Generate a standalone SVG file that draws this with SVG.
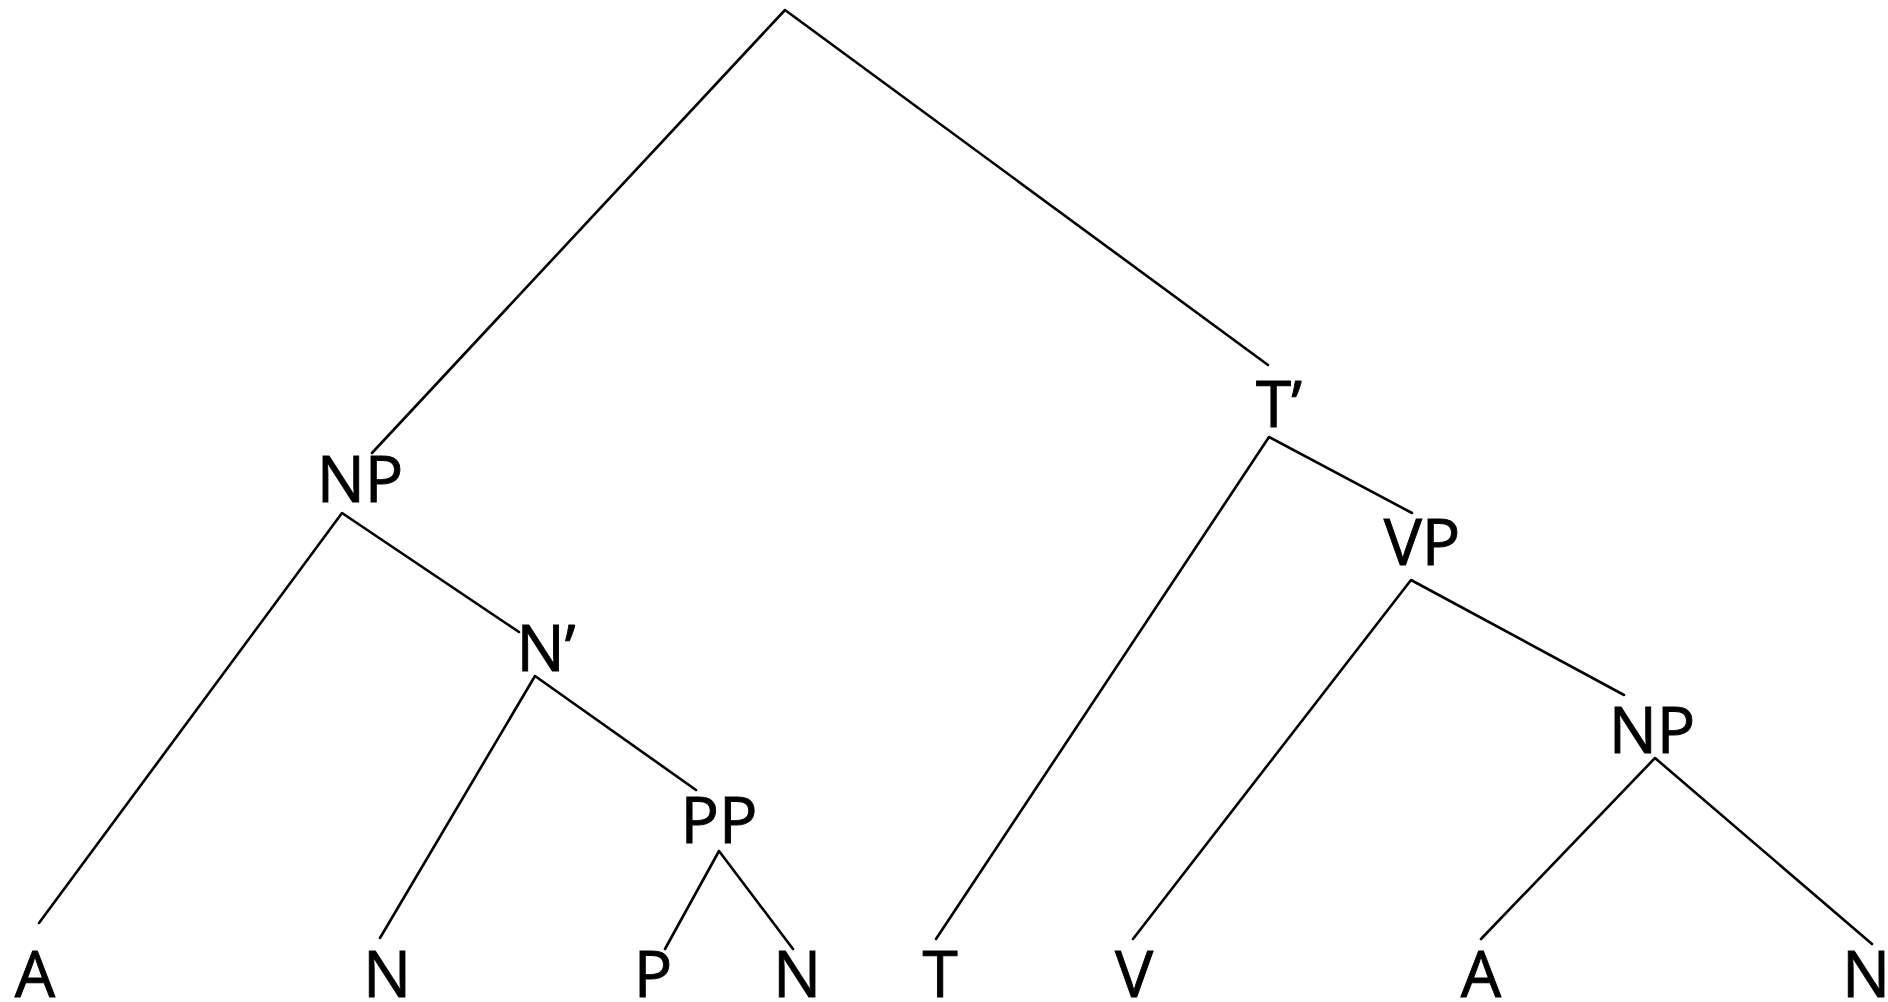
<svg xmlns="http://www.w3.org/2000/svg" width="1888" height="1002" viewBox="0 0 1888 1002">
<style>
.lbl{font-family:"Open Sans","Noto Sans","Liberation Sans",sans-serif;font-size:64px;fill:#000;stroke:#000;stroke-width:0.9;text-anchor:middle}
.edge{stroke:#000;stroke-width:2.6;fill:none;stroke-linecap:round;stroke-linejoin:round}
</style>
<rect width="1888" height="1002" fill="#fff"/>
<g id="connectors">
<polyline class="edge" points="372,453 785,10 1268,365"/>
<polyline class="edge" points="39,923 342,513 519,632"/>
<polyline class="edge" points="380,938 535,676 696,790"/>
<polyline class="edge" points="665,949 719,851 793,949"/>
<polyline class="edge" points="936,939 1269,437 1412,513"/>
<polyline class="edge" points="1133,939 1411,580 1624,695"/>
<polyline class="edge" points="1481,939 1655,758 1872,944"/>
</g>
<g id="n-np1"><text class="lbl" x="360" y="502">NP</text></g>
<g id="n-nbar"><text class="lbl" x="546" y="671">N’</text></g>
<g id="n-pp"><text class="lbl" x="719" y="843">PP</text></g>
<g id="n-tbar"><text class="lbl" x="1279" y="427">T’</text></g>
<g id="n-vp"><text class="lbl" x="1422" y="565">VP</text></g>
<g id="n-np2"><text class="lbl" x="1652" y="753">NP</text></g>
<g id="l-a1"><text class="lbl" x="35" y="997">A</text></g>
<g id="l-n1"><text class="lbl" x="387" y="997">N</text></g>
<g id="l-p"><text class="lbl" x="653" y="997">P</text></g>
<g id="l-n2"><text class="lbl" x="797" y="997">N</text></g>
<g id="l-t"><text class="lbl" x="940" y="997">T</text></g>
<g id="l-v"><text class="lbl" x="1134" y="997">V</text></g>
<g id="l-a2"><text class="lbl" x="1481" y="997">A</text></g>
<g id="l-n3"><text class="lbl" x="1866" y="997">N</text></g>
</svg>
